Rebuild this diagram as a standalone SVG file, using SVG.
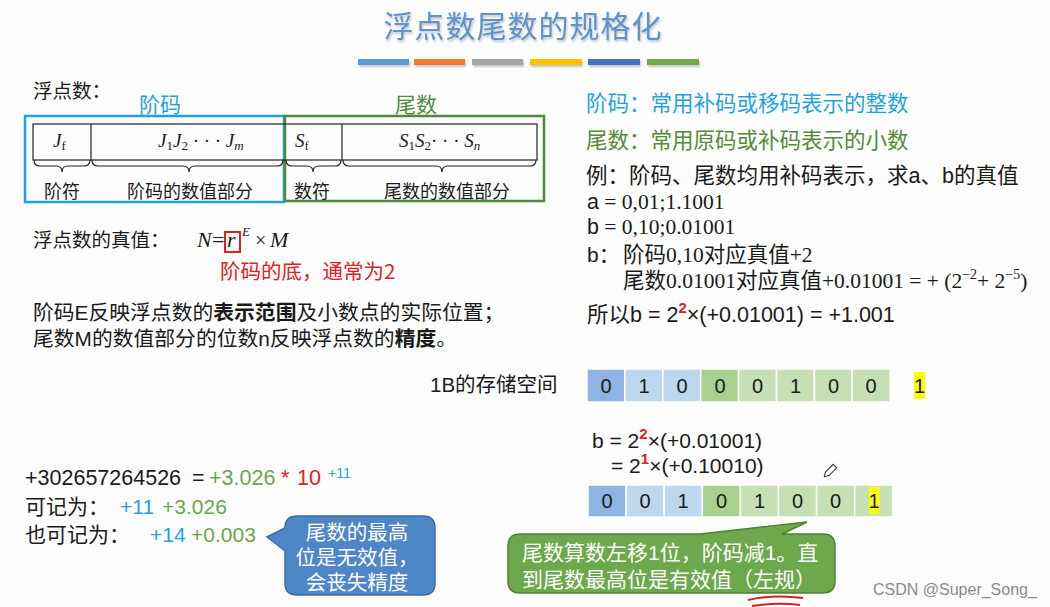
<svg xmlns="http://www.w3.org/2000/svg" width="1050" height="607" viewBox="0 0 1050 607">
<defs>
<style>
.cn{font-family:"Noto Sans CJK SC",sans-serif}
.sans{font-family:"Liberation Sans","Noto Sans CJK SC",sans-serif}
.serif{font-family:"Liberation Serif","Noto Sans CJK SC",serif}
.it{font-style:italic}
.blk{fill:#1a1a1a}
.cyan{fill:#1fa3df}
.grn{fill:#548a3a}
.lgrn{fill:#6aa84a}
.red{fill:#e02222}
.wht{fill:#ffffff}
.cell{stroke:#ffffff;stroke-width:1.5}
.db{fill:#8db4e2}
.lb{fill:#bdd7ee}
.dg{fill:#a9d18e}
.lg{fill:#c5e0b4}
.dig{font-family:"Liberation Sans",sans-serif;font-size:20px;fill:#1a1a1a;text-anchor:middle}
.brace{fill:none;stroke:#222;stroke-width:1.2}
</style>
<filter id="sh" x="-10%" y="-50%" width="120%" height="200%">
<feDropShadow dx="1" dy="2" stdDeviation="1" flood-color="#888" flood-opacity="0.5"/>
</filter>
</defs>
<rect width="1050" height="607" fill="#fdfdfd"/>

<g id="title">
<text x="523" y="37" class="cn" font-size="30" letter-spacing="1" text-anchor="middle" fill="#5b93d0" filter="url(#sh)">浮点数尾数的规格化</text>
<g filter="url(#sh)">
<rect x="358" y="59" width="51" height="6" fill="#5b9bd5"/>
<rect x="414" y="59" width="51" height="6" fill="#ed7d31"/>
<rect x="472" y="59" width="51" height="6" fill="#a5a5a5"/>
<rect x="530" y="59" width="52" height="6" fill="#ffc000"/>
<rect x="588" y="59" width="52" height="6" fill="#4472c4"/>
<rect x="647" y="59" width="52" height="6" fill="#70ad47"/>
</g>
</g>

<g id="format">
<text x="33" y="98" class="cn blk" font-size="19.5">浮点数：</text>
<text x="139" y="112" class="cn cyan" font-size="21">阶码</text>
<text x="395" y="112" class="cn grn" font-size="21">尾数</text>
<rect x="25" y="116" width="259" height="86" fill="none" stroke="#1fa3df" stroke-width="2.5"/>
<rect x="285" y="116" width="259" height="85" fill="none" stroke="#4e8a3e" stroke-width="2.5"/>
<rect x="33" y="124" width="504" height="36" fill="none" stroke="#222" stroke-width="1.2"/>
<line x1="91" y1="124" x2="91" y2="160" stroke="#222" stroke-width="1.2"/>
<line x1="342" y1="124" x2="342" y2="160" stroke="#222" stroke-width="1.2"/>
<text x="53" y="147" class="serif blk" font-size="19"><tspan class="it">J</tspan><tspan font-size="13" dy="3">f</tspan></text>
<text x="158" y="147" class="serif blk" font-size="19"><tspan class="it">J</tspan><tspan font-size="13" dy="3">1</tspan><tspan class="it" dy="-3">J</tspan><tspan font-size="13" dy="3">2</tspan><tspan dy="-3"> · · · </tspan><tspan class="it">J</tspan><tspan class="it" font-size="13" dy="3">m</tspan></text>
<text x="295" y="147" class="serif blk" font-size="19"><tspan class="it">S</tspan><tspan font-size="13" dy="3">f</tspan></text>
<text x="399" y="147" class="serif blk" font-size="19"><tspan class="it">S</tspan><tspan font-size="13" dy="3">1</tspan><tspan class="it" dy="-3">S</tspan><tspan font-size="13" dy="3">2</tspan><tspan dy="-3">· · · </tspan><tspan class="it">S</tspan><tspan class="it" font-size="13" dy="3">n</tspan></text>
<text x="62" y="198" class="cn blk" font-size="18" text-anchor="middle">阶符</text>
<text x="190" y="198" class="cn blk" font-size="18" text-anchor="middle">阶码的数值部分</text>
<text x="312" y="198" class="cn blk" font-size="18" text-anchor="middle">数符</text>
<text x="447" y="198" class="cn blk" font-size="18" text-anchor="middle">尾数的数值部分</text>
</g>

<g id="connectors">
<path class="brace" d="M34,160 q0,6 6,6 H56 q6,0 6,6 q0,-6 6,-6 H84 q6,0 6,-6"/>
<path class="brace" d="M92,160 q0,6 6,6 H183 q6,0 6,6 q0,-6 6,-6 H277 q6,0 6,-6"/>
<path class="brace" d="M286,160 q0,6 6,6 H307 q6,0 6,6 q0,-6 6,-6 H335 q6,0 6,-6"/>
<path class="brace" d="M343,160 q0,6 6,6 H436 q6,0 6,6 q0,-6 6,-6 H530 q6,0 6,-6"/>
</g>

<g id="truevalue">
<text x="33" y="247" class="cn blk" font-size="19.5">浮点数的真值：</text>
<text x="197" y="247" class="serif blk it" font-size="22">N</text>
<text x="212" y="247" class="serif blk" font-size="22">=</text>
<text x="227" y="247" class="serif blk it" font-size="22">r</text>
<rect x="225" y="232" width="15" height="20" fill="none" stroke="#e02222" stroke-width="2"/>
<text x="242" y="236" class="serif blk it" font-size="13">E</text>
<text x="255" y="247" class="serif blk" font-size="20">×</text>
<text x="270" y="247" class="serif blk it" font-size="22">M</text>
<text x="220" y="279" class="cn red" font-size="20.5">阶码的底，通常为2</text>
<text x="33" y="320" class="sans blk" font-size="20.8">阶码E反映浮点数的<tspan font-weight="bold">表示范围</tspan>及小数点的实际位置；</text>
<text x="33" y="346" class="sans blk" font-size="20.8">尾数M的数值部分的位数n反映浮点数的<tspan font-weight="bold">精度</tspan>。</text>
</g>

<g id="example">
<text x="586" y="111" class="cn cyan" font-size="21.5">阶码：常用补码或移码表示的整数</text>
<text x="586" y="148" class="cn grn" font-size="21.5">尾数：常用原码或补码表示的小数</text>
<text x="586" y="183" class="sans blk" font-size="21.5">例：阶码、尾数均用补码表示，求a、b的真值</text>
<text x="587" y="209" class="serif blk" font-size="21.5"><tspan class="sans">a</tspan> = 0,01;1.1001</text>
<text x="587" y="234" class="serif blk" font-size="21.5"><tspan class="sans">b</tspan> = 0,10;0.01001</text>
<text x="587" y="262" class="sans blk" font-size="21">b：</text>
<text x="623" y="262" class="serif blk" font-size="21.5">阶码0,10对应真值+2</text>
<text x="623" y="288" class="serif blk" font-size="21.5">尾数0.01001对应真值+0.01001 = + (2<tspan font-size="14" dy="-9">−2</tspan><tspan dy="9">+ 2</tspan><tspan font-size="14" dy="-9">−5</tspan><tspan dy="9">)</tspan></text>
<text x="587" y="322" class="sans blk" font-size="21.5">所以b = 2<tspan class="red" font-size="15" dy="-9" font-weight="bold">2</tspan><tspan dy="9">×(+0.01001) = +1.001</tspan></text>
</g>

<g id="storage1">
<text x="430" y="392" class="sans blk" font-size="20.5">1B的存储空间</text>
<rect class="cell db" x="587" y="369" width="37.9" height="33"/>
<rect class="cell lb" x="624.9" y="369" width="37.9" height="33"/>
<rect class="cell lb" x="662.8" y="369" width="37.9" height="33"/>
<rect class="cell dg" x="700.7" y="369" width="37.9" height="33"/>
<rect class="cell lg" x="738.6" y="369" width="37.9" height="33"/>
<rect class="cell lg" x="776.5" y="369" width="37.9" height="33"/>
<rect class="cell lg" x="814.4" y="369" width="37.9" height="33"/>
<rect class="cell lg" x="852.3" y="369" width="37.9" height="33"/>
<text class="dig" x="606" y="393">0</text>
<text class="dig" x="644" y="393">1</text>
<text class="dig" x="682" y="393">0</text>
<text class="dig" x="720" y="393">0</text>
<text class="dig" x="757.5" y="393">0</text>
<text class="dig" x="795.5" y="393">1</text>
<text class="dig" x="833.5" y="393">0</text>
<text class="dig" x="871" y="393">0</text>
<rect x="914" y="372" width="11" height="27" fill="#ffff00"/>
<text class="dig" x="919.5" y="393">1</text>
</g>

<g id="normalize">
<text x="592" y="448" class="sans blk" font-size="21">b = 2<tspan class="red" font-size="15" dy="-9" font-weight="bold">2</tspan><tspan dy="9">×(+0.01001)</tspan></text>
<text x="611" y="473" class="sans blk" font-size="21">= 2<tspan class="red" font-size="15" dy="-9" font-weight="bold">1</tspan><tspan dy="9">×(+0.10010)</tspan></text>
<g transform="translate(830,471) rotate(45)">
<polygon points="-2.5,-7 2.5,-7 2.5,4 0,8 -2.5,4" fill="#fff" stroke="#333" stroke-width="1"/>
</g>
</g>

<g id="storage2">
<rect class="cell db" x="588" y="485" width="38.1" height="32"/>
<rect class="cell lb" x="626.1" y="485" width="38.1" height="32"/>
<rect class="cell lb" x="664.2" y="485" width="38.1" height="32"/>
<rect class="cell dg" x="702.3" y="485" width="38.1" height="32"/>
<rect class="cell lg" x="740.4" y="485" width="38.1" height="32"/>
<rect class="cell lg" x="778.5" y="485" width="38.1" height="32"/>
<rect class="cell lg" x="816.6" y="485" width="38.1" height="32"/>
<rect class="cell lg" x="854.7" y="485" width="38.1" height="32"/>
<rect x="869" y="487" width="10.5" height="27" fill="#ffff00"/>
<text class="dig" x="607" y="508">0</text>
<text class="dig" x="645" y="508">0</text>
<text class="dig" x="683" y="508">1</text>
<text class="dig" x="721.5" y="508">0</text>
<text class="dig" x="759.5" y="508">1</text>
<text class="dig" x="797.5" y="508">0</text>
<text class="dig" x="835.5" y="508">0</text>
<text class="dig" x="874" y="508">1</text>
</g>

<g id="decimal-example">
<text x="25" y="485" class="sans blk" font-size="21.5">+302657264526</text>
<text x="192" y="485" class="sans blk" font-size="21.5">=</text>
<text x="209" y="485" class="sans lgrn" font-size="21.5">+3.026</text>
<text x="281" y="485" class="sans red" font-size="21.5">*</text>
<text x="297" y="485" class="sans red" font-size="21.5">10</text>
<text x="328" y="478" class="sans cyan" font-size="14">+11</text>
<text x="25" y="514" class="sans blk" font-size="21">可记为：</text>
<text x="120" y="514" class="sans cyan" font-size="21">+11</text>
<text x="162" y="514" class="sans lgrn" font-size="21">+3.026</text>
<text x="25" y="542" class="sans blk" font-size="21">也可记为：</text>
<text x="150" y="542" class="sans cyan" font-size="21">+14</text>
<text x="191" y="542" class="sans lgrn" font-size="21">+0.003</text>
</g>

<g id="callout-blue">
<path d="M297,516 H423 Q435,516 435,528 V583 Q435,595 423,595 H297 Q285,595 285,583 V551 L267,537 L285,528 Q285,516 297,516 Z" fill="#4f86c6" stroke="#3b6ba6" stroke-width="1.5"/>
<text class="sans wht" font-size="20.5" text-anchor="middle"><tspan x="357" y="540">尾数的最高</tspan><tspan x="357" y="565">位是无效值，</tspan><tspan x="357" y="590">会丧失精度</tspan></text>
</g>

<g id="callout-green">
<path d="M520,534 H700 L807,522 L782,534 H823 Q835,534 835,546 V581 Q835,593 823,593 H520 Q508,593 508,581 V546 Q508,534 520,534 Z" fill="#6ea84c" stroke="#4f8034" stroke-width="1.5"/>
<text class="sans wht" font-size="21"><tspan x="522" y="560">尾数算数左移1位，阶码减1。直</tspan><tspan x="522" y="587">到尾数最高位是有效值（左规）</tspan></text>
</g>

<g id="annotation">
<path d="M748,600 Q775,594 803,598" fill="none" stroke="#d62020" stroke-width="2"/>
<path d="M752,606 Q778,602 800,605" fill="none" stroke="#d62020" stroke-width="2"/>
</g>

<g id="watermark">
<text x="873" y="595" class="sans" font-size="16" fill="#8a8a8a">CSDN @Super_Song_</text>
</g>
</svg>
